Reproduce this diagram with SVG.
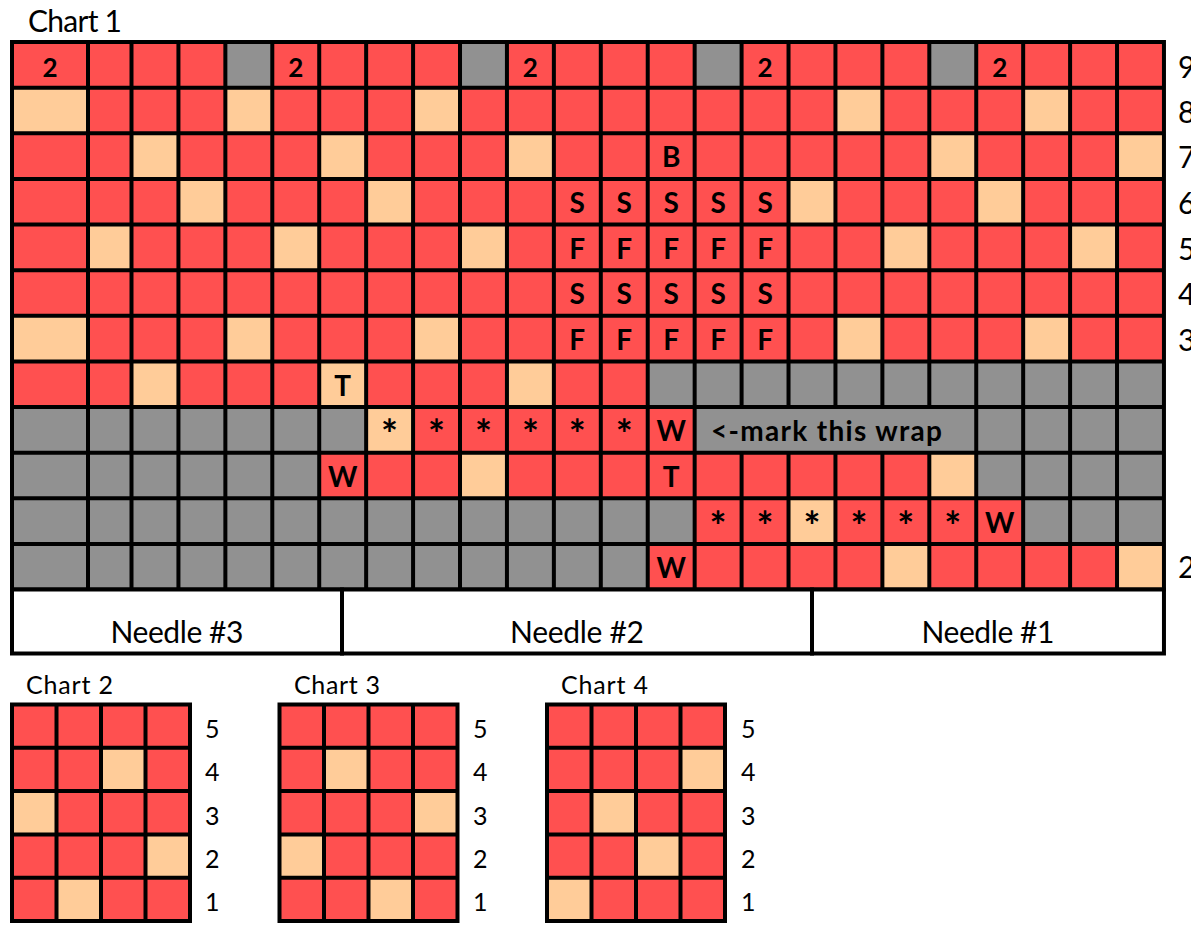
<svg xmlns="http://www.w3.org/2000/svg" xmlns:xlink="http://www.w3.org/1999/xlink" width="1191" height="927" viewBox="0 0 1191 927">
<style>
.r{fill:#FF5050}
.t{fill:#FFCC99}
.g{fill:#919191}
.w{fill:#FFFFFF}
.grid{fill:none;stroke:#000;stroke-width:4;stroke-linecap:square}
.frame{stroke:#000;stroke-width:4}
.lbl{font-family:Lato,"Liberation Sans",sans-serif;font-size:30px;fill:#000}
.sm{font-family:Lato,"Liberation Sans",sans-serif;font-size:25px;fill:#000}
.ttl{font-family:Lato,"Liberation Sans",sans-serif;font-size:25px;fill:#000}
.b{font-family:Lato,"Liberation Sans",sans-serif;font-weight:bold;font-size:28px;fill:#000;text-anchor:middle}
.b2{font-family:Lato,"Liberation Sans",sans-serif;font-weight:bold;font-size:26px;fill:#000;text-anchor:middle}
.ast{font-family:Lato,"Liberation Sans",sans-serif;font-weight:bold;font-size:40px;fill:#000;text-anchor:middle}
.mk{font-family:Lato,"Liberation Sans",sans-serif;font-weight:bold;font-size:28px;fill:#000}
</style>
<defs>
<rect id="c" width="46.93" height="45.625"/>
<rect id="s" width="44.5" height="43.3"/>
</defs>

<text class="lbl" x="28" y="32" textLength="94">Chart 1</text>

<g id="chart1">
  <rect class="r" x="12" y="42" width="1151.96" height="547.5"/>
  <use href="#c" class="g" x="225.36" y="42"/>
  <use href="#c" class="g" x="460.01" y="42"/>
  <use href="#c" class="g" x="694.66" y="42"/>
  <use href="#c" class="g" x="929.31" y="42"/>
  <rect class="g" x="647.73" y="361.375" width="516.23" height="45.625"/>
  <rect class="g" x="12" y="407" width="354.15" height="45.625"/>
  <rect class="g" x="694.66" y="407" width="469.3" height="45.625"/>
  <rect class="g" x="12" y="452.625" width="307.22" height="45.625"/>
  <rect class="g" x="976.24" y="452.625" width="187.72" height="45.625"/>
  <rect class="g" x="12" y="498.25" width="682.66" height="45.625"/>
  <rect class="g" x="1023.17" y="498.25" width="140.79" height="45.625"/>
  <rect class="g" x="12" y="543.875" width="635.73" height="45.625"/>
  <rect class="t" x="12" y="87.625" width="76" height="45.625"/>
  <use href="#c" class="t" x="225.36" y="87.625"/>
  <use href="#c" class="t" x="413.08" y="87.625"/>
  <use href="#c" class="t" x="835.45" y="87.625"/>
  <use href="#c" class="t" x="1023.17" y="87.625"/>
  <use href="#c" class="t" x="131.5" y="133.25"/>
  <use href="#c" class="t" x="319.22" y="133.25"/>
  <use href="#c" class="t" x="506.94" y="133.25"/>
  <use href="#c" class="t" x="929.31" y="133.25"/>
  <use href="#c" class="t" x="1117.03" y="133.25"/>
  <use href="#c" class="t" x="178.43" y="178.875"/>
  <use href="#c" class="t" x="366.15" y="178.875"/>
  <use href="#c" class="t" x="788.52" y="178.875"/>
  <use href="#c" class="t" x="976.24" y="178.875"/>
  <rect class="t" x="88" y="224.5" width="43.5" height="45.625"/>
  <use href="#c" class="t" x="272.29" y="224.5"/>
  <use href="#c" class="t" x="460.01" y="224.5"/>
  <use href="#c" class="t" x="882.38" y="224.5"/>
  <use href="#c" class="t" x="1070.1" y="224.5"/>
  <rect class="t" x="12" y="315.75" width="76" height="45.625"/>
  <use href="#c" class="t" x="225.36" y="315.75"/>
  <use href="#c" class="t" x="413.08" y="315.75"/>
  <use href="#c" class="t" x="835.45" y="315.75"/>
  <use href="#c" class="t" x="1023.17" y="315.75"/>
  <use href="#c" class="t" x="131.5" y="361.375"/>
  <use href="#c" class="t" x="319.22" y="361.375"/>
  <use href="#c" class="t" x="506.94" y="361.375"/>
  <use href="#c" class="t" x="366.15" y="407"/>
  <use href="#c" class="t" x="460.01" y="452.625"/>
  <use href="#c" class="t" x="929.31" y="452.625"/>
  <use href="#c" class="t" x="788.52" y="498.25"/>
  <use href="#c" class="t" x="882.38" y="543.875"/>
  <use href="#c" class="t" x="1117.03" y="543.875"/>
  <path class="grid" d="M12 42V589.5M88 42V589.5M131.5 42V589.5M178.43 42V589.5M225.36 42V589.5M272.29 42V589.5M319.22 42V589.5M366.15 42V589.5M413.08 42V589.5M460.01 42V589.5M506.94 42V589.5M553.87 42V589.5M600.8 42V589.5M647.73 42V589.5M694.66 42V589.5
  M741.59 42V407M741.59 452.625V589.5M788.52 42V407M788.52 452.625V589.5M835.45 42V407M835.45 452.625V589.5M882.38 42V407M882.38 452.625V589.5M929.31 42V407M929.31 452.625V589.5
  M976.24 42V589.5M1023.17 42V589.5M1070.1 42V589.5M1117.03 42V589.5M1163.96 42V589.5
  M12 42H1163.96M12 87.625H1163.96M12 133.25H1163.96M12 178.875H1163.96M12 224.5H1163.96M12 270.125H1163.96M12 315.75H1163.96M12 361.375H1163.96M12 407H1163.96M12 452.625H1163.96M12 498.25H1163.96M12 543.875H1163.96M12 589.5H1163.96"/>
  <g class="sym">
    <text class="b2" x="50" y="77">2</text>
    <text class="b2" x="295.76" y="77">2</text>
    <text class="b2" x="530.4" y="77">2</text>
    <text class="b2" x="765.1" y="77">2</text>
    <text class="b2" x="999.7" y="77">2</text>
    <text class="b" x="671.2" y="167">B</text>
    <text class="b" x="577.3" y="213">S</text>
    <text class="b" x="624.3" y="213">S</text>
    <text class="b" x="671.2" y="213">S</text>
    <text class="b" x="718.1" y="213">S</text>
    <text class="b" x="765.1" y="213">S</text>
    <text class="b" x="577.3" y="259">F</text>
    <text class="b" x="624.3" y="259">F</text>
    <text class="b" x="671.2" y="259">F</text>
    <text class="b" x="718.1" y="259">F</text>
    <text class="b" x="765.1" y="259">F</text>
    <text class="b" x="577.3" y="304">S</text>
    <text class="b" x="624.3" y="304">S</text>
    <text class="b" x="671.2" y="304">S</text>
    <text class="b" x="718.1" y="304">S</text>
    <text class="b" x="765.1" y="304">S</text>
    <text class="b" x="577.3" y="350">F</text>
    <text class="b" x="624.3" y="350">F</text>
    <text class="b" x="671.2" y="350">F</text>
    <text class="b" x="718.1" y="350">F</text>
    <text class="b" x="765.1" y="350">F</text>
    <text class="b" x="342.7" y="396">T</text>
    <text class="ast" x="389.6" y="449">*</text>
    <text class="ast" x="436.5" y="449">*</text>
    <text class="ast" x="483.5" y="449">*</text>
    <text class="ast" x="530.4" y="449">*</text>
    <text class="ast" x="577.3" y="449">*</text>
    <text class="ast" x="624.3" y="449">*</text>
    <text class="b" x="671.2" y="441">W</text>
    <text class="mk" x="711" y="441" textLength="231">&lt;-mark this wrap</text>
    <text class="b" x="342.7" y="487">W</text>
    <text class="b" x="671.2" y="487">T</text>
    <text class="ast" x="718.1" y="540.5">*</text>
    <text class="ast" x="765.1" y="540.5">*</text>
    <text class="ast" x="812" y="540.5">*</text>
    <text class="ast" x="858.9" y="540.5">*</text>
    <text class="ast" x="905.8" y="540.5">*</text>
    <text class="ast" x="952.8" y="540.5">*</text>
    <text class="b" x="999.7" y="532.5">W</text>
    <text class="b" x="671.2" y="578">W</text>
  </g>
  <text class="lbl" x="1178" y="78">9</text>
  <text class="lbl" x="1178" y="123">8</text>
  <text class="lbl" x="1178" y="168">7</text>
  <text class="lbl" x="1178" y="214">6</text>
  <text class="lbl" x="1178" y="260">5</text>
  <text class="lbl" x="1178" y="305">4</text>
  <text class="lbl" x="1178" y="351">3</text>
  <text class="lbl" x="1178" y="578">2</text>
</g>

<g id="needles">
  <rect class="w frame" x="12" y="589.5" width="1151.96" height="64"/>
  <path class="grid" d="M342 589.5V653.5M812 589.5V653.5"/>
  <text class="lbl" x="177" y="643" text-anchor="middle" textLength="133">Needle #3</text>
  <text class="lbl" x="577" y="643" text-anchor="middle" textLength="134">Needle #2</text>
  <text class="lbl" x="988" y="643" text-anchor="middle" textLength="133">Needle #1</text>
</g>

<g id="chart2">
  <text class="ttl" x="26" y="694" textLength="87">Chart 2</text>
  <rect class="r" x="12" y="704.5" width="178" height="216.5"/>
  <use href="#s" class="t" x="101" y="747.8"/>
  <use href="#s" class="t" x="12" y="791.1"/>
  <use href="#s" class="t" x="145.5" y="834.4"/>
  <use href="#s" class="t" x="56.5" y="877.7"/>
  <path class="grid" d="M12 704.5V921M56.5 704.5V921M101 704.5V921M145.5 704.5V921M190 704.5V921M12 704.5H190M12 747.8H190M12 791.1H190M12 834.4H190M12 877.7H190M12 921H190"/>
  <text class="sm" x="205" y="738">5</text>
  <text class="sm" x="205" y="781.3">4</text>
  <text class="sm" x="205" y="824.6">3</text>
  <text class="sm" x="205" y="867.9">2</text>
  <text class="sm" x="205" y="911">1</text>
</g>

<g id="chart3">
  <text class="ttl" x="294" y="694" textLength="86">Chart 3</text>
  <rect class="r" x="279.5" y="704.5" width="178" height="216.5"/>
  <use href="#s" class="t" x="324" y="747.8"/>
  <use href="#s" class="t" x="413" y="791.1"/>
  <use href="#s" class="t" x="279.5" y="834.4"/>
  <use href="#s" class="t" x="368.5" y="877.7"/>
  <path class="grid" d="M279.5 704.5V921M324 704.5V921M368.5 704.5V921M413 704.5V921M457.5 704.5V921M279.5 704.5H457.5M279.5 747.8H457.5M279.5 791.1H457.5M279.5 834.4H457.5M279.5 877.7H457.5M279.5 921H457.5"/>
  <text class="sm" x="473" y="738">5</text>
  <text class="sm" x="473" y="781.3">4</text>
  <text class="sm" x="473" y="824.6">3</text>
  <text class="sm" x="473" y="867.9">2</text>
  <text class="sm" x="473" y="911">1</text>
</g>

<g id="chart4">
  <text class="ttl" x="561" y="694" textLength="87">Chart 4</text>
  <rect class="r" x="547" y="704.5" width="178" height="216.5"/>
  <use href="#s" class="t" x="680.5" y="747.8"/>
  <use href="#s" class="t" x="591.5" y="791.1"/>
  <use href="#s" class="t" x="636" y="834.4"/>
  <use href="#s" class="t" x="547" y="877.7"/>
  <path class="grid" d="M547 704.5V921M591.5 704.5V921M636 704.5V921M680.5 704.5V921M725 704.5V921M547 704.5H725M547 747.8H725M547 791.1H725M547 834.4H725M547 877.7H725M547 921H725"/>
  <text class="sm" x="741" y="738">5</text>
  <text class="sm" x="741" y="781.3">4</text>
  <text class="sm" x="741" y="824.6">3</text>
  <text class="sm" x="741" y="867.9">2</text>
  <text class="sm" x="741" y="911">1</text>
</g>
</svg>
